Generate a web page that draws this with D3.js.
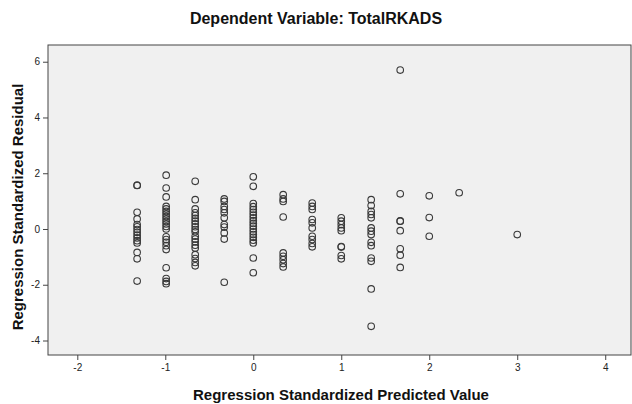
<!DOCTYPE html>
<html><head><meta charset="utf-8">
<script src="https://cdn.jsdelivr.net/npm/d3@7"></script>
<style>body{margin:0;background:#fff}svg{display:block}</style>
</head><body>
<svg id="c" width="632" height="404"></svg>
<script>
const title = "Dependent Variable: TotalRKADS";
const xTitle = "Regression Standardized Predicted Value";
const yTitle = "Regression Standardized Residual";
const xTicks = [-2, -1, 0, 1, 2, 3, 4];
const yTicks = [-4, -2, 0, 2, 4, 6];
const predicted = [-1.32, -0.99, -0.66, -0.33, 0, 0.34, 0.67, 1.0, 1.34, 1.67, 2.0, 2.34, 3.0];
const residuals = [
  [1.57, 1.56, 0.60, 0.36, 0.16, 0.08, -0.02, -0.12, -0.22, -0.32, -0.42, -0.50, -0.84, -1.07, -1.87],
  [1.93, 1.47, 1.15, 0.81, 0.72, 0.63, 0.54, 0.45, 0.36, 0.27, 0.18, 0.09, 0.0, -0.28, -0.38, -0.48, -0.60, -0.74, -1.39, -1.78, -1.88, -1.96],
  [1.71, 1.05, 0.72, 0.58, 0.48, 0.38, 0.28, 0.18, 0.08, -0.02, -0.10, -0.26, -0.36, -0.46, -0.58, -0.68, -0.92, -1.06, -1.20, -1.32],
  [1.08, 0.99, 0.81, 0.70, 0.58, 0.40, 0.16, 0.07, -0.14, -0.36, -1.91],
  [1.87, 1.53, 0.91, 0.80, 0.70, 0.60, 0.50, 0.40, 0.30, 0.20, 0.10, 0.0, -0.10, -0.20, -0.30, -0.40, -0.50, -1.04, -1.57],
  [1.23, 1.08, 0.99, 0.43, -0.86, -0.98, -1.10, -1.24, -1.36],
  [0.93, 0.81, 0.70, 0.34, 0.22, 0.04, -0.26, -0.38, -0.52, -0.64],
  [0.40, 0.28, 0.16, 0.04, -0.06, -0.63, -0.65, -0.95, -1.07],
  [1.05, 0.84, 0.63, 0.52, 0.40, 0.04, -0.08, -0.20, -0.48, -0.60, -1.04, -1.16, -2.15, -3.49],
  [5.70, 1.26, 0.28, 0.29, -0.06, -0.71, -0.94, -1.38],
  [1.19, 0.41, -0.26],
  [1.30],
  [-0.20]
];
const points = [];
predicted.forEach((p, i) => residuals[i].forEach(r => points.push({x: p, y: r})));

const svg = d3.select("#c");
const L = 48, R = 631, T = 45, B = 355;
const x = d3.scaleLinear().domain([-2.333, 4.293]).range([L, R]);
const y = d3.scaleLinear().domain([-4.52, 6.6]).range([B, T]);
const font = "'Liberation Sans', Arial, sans-serif";
const fmt = d => String(d);

svg.append("rect").attr("x", L).attr("y", T).attr("width", R - L).attr("height", B - T)
  .attr("fill", "#f0f0f0").attr("stroke", "#444").attr("stroke-width", 1);

const xa = svg.append("g").attr("transform", `translate(0,${B})`)
  .call(d3.axisBottom(x).tickValues(xTicks).tickSize(5).tickPadding(4).tickFormat(fmt));
const ya = svg.append("g").attr("transform", `translate(${L},0)`)
  .call(d3.axisLeft(y).tickValues(yTicks).tickSize(5).tickPadding(3).tickFormat(fmt));
[xa, ya].forEach(a => {
  a.select(".domain").remove();
  a.selectAll("line").attr("stroke", "#444");
  a.selectAll("text").attr("font-family", font).attr("font-size", 10).attr("fill", "#222");
});

svg.append("g").selectAll("circle").data(points).join("circle")
  .attr("cx", d => x(d.x)).attr("cy", d => y(d.y)).attr("r", 3.3)
  .attr("fill", "none").attr("stroke", "#3a3a3a").attr("stroke-width", 1.1);

svg.append("text").attr("x", 316).attr("y", 24).attr("text-anchor", "middle")
  .attr("font-family", font).attr("font-size", 16).attr("font-weight", "bold").attr("fill", "#111").text(title);
svg.append("text").attr("x", 341).attr("y", 400).attr("text-anchor", "middle")
  .attr("font-family", font).attr("font-size", 15).attr("font-weight", "bold").attr("fill", "#111").text(xTitle);
svg.append("text").attr("transform", "translate(23,207) rotate(-90)").attr("text-anchor", "middle")
  .attr("font-family", font).attr("font-size", 15).attr("font-weight", "bold").attr("fill", "#111").text(yTitle);
</script>
</body></html>
